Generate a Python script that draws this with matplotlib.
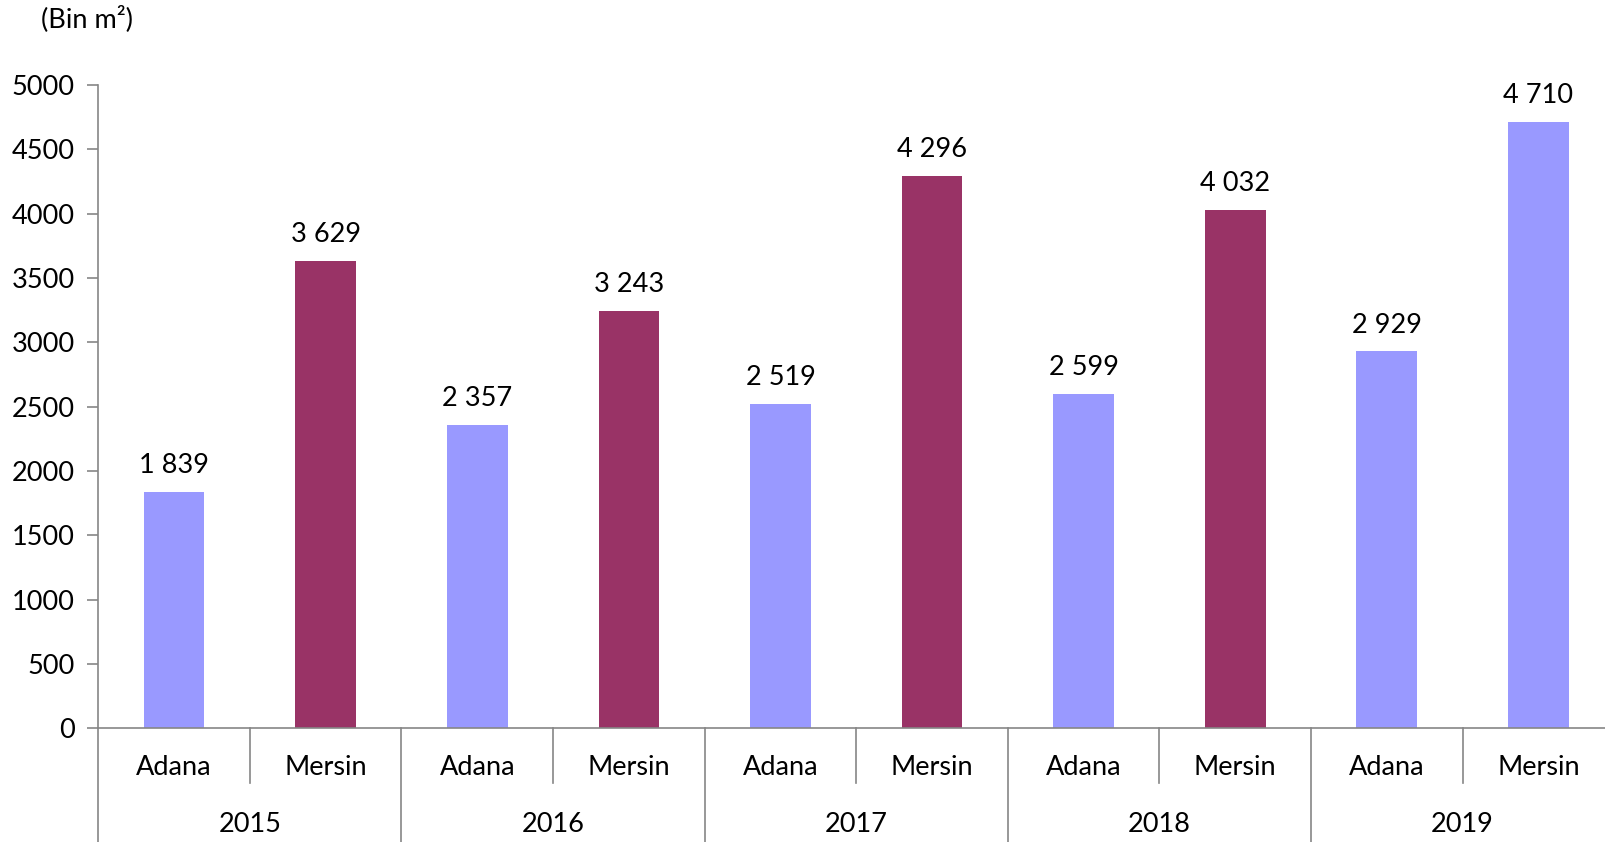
"""Grouped bar chart: Adana vs Mersin, 2015-2019 (thousand m2)."""
import matplotlib.pyplot as plt
import matplotlib.transforms as mtransforms

plt.rcParams["font.family"] = ["Lato", "DejaVu Sans"]

years = ["2015", "2016", "2017", "2018", "2019"]
cities = ["Adana", "Mersin"]
values = [1839, 3629, 2357, 3243, 2519, 4296, 2599, 4032, 2929, 4710]
bar_colors = ["#9999FF", "#993366", "#9999FF", "#993366", "#9999FF",
              "#993366", "#9999FF", "#993366", "#9999FF", "#9999FF"]
yticks = [0, 500, 1000, 1500, 2000, 2500, 3000, 3500, 4000, 4500, 5000]

GRAY = "#868686"
FS = 19.5

fig = plt.figure(figsize=(16.06, 8.42), dpi=100)
ax = fig.add_axes([0.0612, 0.1352, 0.9439, 0.7638])

n = len(values)
xs = list(range(n))
ax.bar(xs, values, width=0.4, color=bar_colors, zorder=2)
for x, v in zip(xs, values):
    ax.annotate(f"{v:,}".replace(",", " "), (x, v), xytext=(0, 10),
                textcoords="offset points", ha="center", va="bottom",
                fontsize=FS, color="black")

ax.set_xlim(-0.5, n - 0.5)
ax.set_ylim(0, 5000)
ax.set_yticks(yticks)
ax.set_yticklabels([str(t) for t in yticks], fontsize=FS)
ax.tick_params(axis="y", length=8, width=1.2, color=GRAY, pad=9)
ax.set_xticks([])

for side in ("top", "right"):
    ax.spines[side].set_visible(False)
for side in ("left", "bottom"):
    ax.spines[side].set_color(GRAY)
    ax.spines[side].set_linewidth(1.2)

# two-level category axis drawn below the plot
trans = mtransforms.blended_transform_factory(
    ax.transData, fig.transFigure)
ax_bottom = 0.1352
for i in range(n + 1):
    b = i - 0.5
    y_end = 0.0 if i % 2 == 0 else ax_bottom - 55 / 842
    ax.plot([b, b], [ax_bottom, y_end], transform=trans, color=GRAY,
            lw=1.2, clip_on=False)

for i, x in enumerate(xs):
    ax.text(x, ax_bottom - 39 / 842, cities[i % 2], transform=trans,
            ha="center", va="center", fontsize=FS)
for g, yr in enumerate(years):
    ax.text(2 * g + 0.5, ax_bottom - 96 / 842, yr, transform=trans,
            ha="center", va="center", fontsize=FS)

fig.text(41 / 1606, 1 - 19 / 842, "(Bin m²)", ha="left", va="center",
         fontsize=FS)

fig.savefig("out.png", dpi=100)
